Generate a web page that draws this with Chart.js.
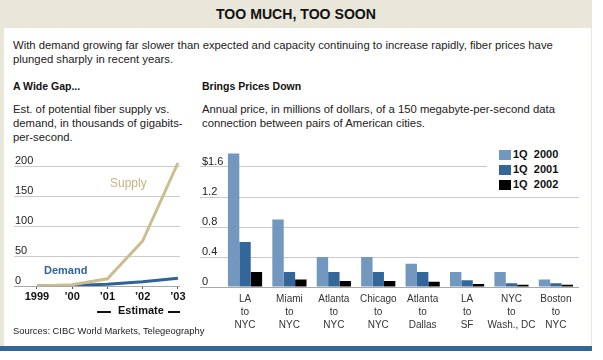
<!DOCTYPE html>
<html>
<head>
<meta charset="utf-8">
<script src="https://cdn.jsdelivr.net/npm/chart.js@4.4.1/dist/chart.umd.min.js"></script>
<style>
  body { margin: 0; background: #fff; font-family: Arial, "Liberation Sans", Helvetica, sans-serif; color: #222; }
  #frame { position: absolute; left: 0; top: 0; width: 592px; height: 346px; background: #e8e7da; }
  #panel { position: absolute; left: 4px; top: 28px; width: 587px; height: 318px; background: #fff; }
  #bar { position: absolute; left: 0; top: 346px; width: 592px; height: 5px; background: #336699; }
  .t { position: absolute; white-space: nowrap; }
  #title { left: 0; width: 592px; top: 5px; text-align: center; font: bold 15px Arial, sans-serif; color: #111;
           transform: scaleX(0.94); transform-origin: 296px 0; }
  .body { font-size: 11.3px; line-height: 14px; }
  .head { font-weight: bold; font-size: 10.5px; color: #111; }
  canvas { position: absolute; }
  #legend { position: absolute; left: 487px; top: 146px; width: 92px; height: 46px; background: #fff; }
  .li { position: absolute; left: 12px; height: 12px; font: bold 11px Arial, sans-serif; white-space: pre; color: #111; }
  .li span { position: absolute; left: 0; top: 1px; width: 12px; height: 10px; }
  .li b { position: absolute; left: 14px; top: -1px; }
  .dash { position: absolute; height: 1.5px; background: #111; }
</style>
</head>
<body>
<div id="frame"></div>
<div id="panel"></div>
<div id="bar"></div>

<div class="t" id="title">TOO MUCH, TOO SOON</div>
<div class="t body" style="left:13px; top:38px;">With demand growing far slower than expected and capacity continuing to increase rapidly, fiber prices have<br>plunged sharply in recent years.</div>

<div class="t head" style="left:13px; top:80px;">A Wide Gap...</div>
<div class="t body" style="left:13px; top:102px;">Est. of potential fiber supply vs.<br>demand, in thousands of gigabits-<br>per-second.</div>

<div class="t head" style="left:202px; top:80px;">Brings Prices Down</div>
<div class="t body" style="left:202px; top:102px;">Annual price, in millions of dollars, of a 150 megabyte-per-second data<br>connection between pairs of American cities.</div>

<canvas id="gap" width="195" height="180" style="left:0; top:140px;"></canvas>
<canvas id="prices" width="413" height="200" style="left:190px; top:140px;"></canvas>

<div class="t" style="left:110px; top:176px; font-size:12px; color:#c4b383;">Supply</div>
<div class="t" style="left:44px; top:264px; font-size:11px; font-weight:bold; color:#2e6399;">Demand</div>
<div class="dash" style="left:97px; top:311px; width:14px;"></div>
<div class="t" style="left:118px; top:304px; font-size:11px; font-weight:bold; color:#111;">Estimate</div>
<div class="dash" style="left:168px; top:311px; width:12px;"></div>
<div class="t" style="left:13px; top:325px; font-size:9.4px; color:#222;">Sources: CIBC World Markets, Telegeography</div>

<div id="legend">
  <div class="li" style="top:3px;"><span style="background:#7298bf"></span><b>1Q  2000</b></div>
  <div class="li" style="top:18px;"><span style="background:#336699"></span><b>1Q  2001</b></div>
  <div class="li" style="top:33px;"><span style="background:#000"></span><b>1Q  2002</b></div>
</div>

<script>
// left chart: supply vs demand, thousands of Gbps
var years      = [1999, 2000, 2001, 2002, 2003]
var yearLabels = ['1999', '\u201900', '\u201901', '\u201902', '\u201903']
var supply     = [0, 2, 12, 75, 205]
var demand     = [0, 1, 3, 7, 13]
var gapTicks   = [0, 50, 100, 150, 200]

// right chart: annual price, $ millions
var routes = [
  ['LA', 'to', 'NYC'], ['Miami', 'to', 'NYC'], ['Atlanta', 'to', 'NYC'], ['Chicago', 'to', 'NYC'],
  ['Atlanta', 'to', 'Dallas'], ['LA', 'to', 'SF'], ['NYC', 'to', 'Wash., DC'], ['Boston', 'to', 'NYC']
]
var price2000  = [1.78, 0.9, 0.4, 0.4, 0.31, 0.2, 0.2, 0.1]
var price2001  = [0.6, 0.2, 0.2, 0.2, 0.2, 0.09, 0.05, 0.05]
var price2002  = [0.2, 0.1, 0.08, 0.08, 0.07, 0.04, 0.03, 0.03]
var priceTicks = [0, 0.4, 0.8, 1.2, 1.6]
var priceTickLabels = ['0', '0.4', '0.8', '1.2', '$1.6']

var gridColor = function (c) { return c.tick && c.tick.value === 0 ? '#a8a8a8' : '#cacaca' }

function pts(xs, ys) {
  return ys.map(function (v, i) { return { x: xs[i], y: v } })
}
var routeIdx = routes.map(function (r, i) { return i })

new Chart(document.getElementById('gap'), {
  type: 'line',
  data: {
    datasets: [
      { data: pts(years, supply), borderColor: '#cbbd8f', borderWidth: 3, pointRadius: 0, tension: 0 },
      { data: pts(years, demand), borderColor: '#2e6399', borderWidth: 3, pointRadius: 0, tension: 0 }
    ]
  },
  options: {
    responsive: false, animation: false,
    layout: { padding: { left: 14, right: 15, top: 20, bottom: 0 } },
    plugins: { legend: { display: false }, tooltip: { enabled: false } },
    scales: {
      x: {
        type: 'linear', min: 1998.35, max: 2003.06,
        afterBuildTicks: function (s) { s.ticks = years.map(function (v) { return { value: v } }) },
        afterFit: function (s) { s.height = 34 },
        grid: { drawOnChartArea: false, drawTicks: true, tickLength: 3, color: '#555' },
        border: { display: false },
        ticks: {
          padding: 1, color: '#111', font: { family: 'Arial', size: 11, weight: 'bold' },
          autoSkip: false, maxRotation: 0,
          callback: function (v, i) { return yearLabels[i] }
        }
      },
      y: {
        min: 0, max: 210,
        afterBuildTicks: function (s) { s.ticks = gapTicks.map(function (v) { return { value: v } }) },
        afterFit: function (s) { s.width = 0 },
        grid: { color: gridColor, drawTicks: false },
        border: { display: false },
        ticks: {
          mirror: true, padding: 1, labelOffset: -5, color: '#222',
          font: { family: 'Arial', size: 11 }
        }
      }
    }
  }
})

new Chart(document.getElementById('prices'), {
  type: 'bar',
  data: {
    datasets: [
      { label: '1Q 2000', data: pts(routeIdx, price2000), backgroundColor: '#7298bf' },
      { label: '1Q 2001', data: pts(routeIdx, price2001), backgroundColor: '#336699' },
      { label: '1Q 2002', data: pts(routeIdx, price2002), backgroundColor: '#000000' }
    ]
  },
  options: {
    responsive: false, animation: false,
    categoryPercentage: 0.77, barPercentage: 1.0,
    layout: { padding: { left: 10, right: 24, top: 12, bottom: 0 } },
    plugins: { legend: { display: false }, tooltip: { enabled: false } },
    scales: {
      x: {
        type: 'linear', min: -1.0135, max: 7.52, offset: false,
        afterBuildTicks: function (s) { s.ticks = routeIdx.map(function (v) { return { value: v } }) },
        afterFit: function (s) { s.height = 53 },
        grid: { display: false, offset: false },
        border: { display: false },
        ticks: {
          padding: -2, color: '#333', font: { family: 'Arial', size: 10, lineHeight: 1.3 },
          autoSkip: false, maxRotation: 0,
          callback: function (v, i) { return routes[i] }
        }
      },
      y: {
        min: 0, max: 1.8,
        afterBuildTicks: function (s) { s.ticks = priceTicks.map(function (v) { return { value: v } }) },
        afterFit: function (s) { s.width = 0 },
        grid: { color: gridColor, drawTicks: false },
        border: { display: false },
        ticks: {
          mirror: true, padding: 2, labelOffset: -5, color: '#222',
          font: { family: 'Arial', size: 11 },
          callback: function (v, i) { return priceTickLabels[i] }
        }
      }
    }
  }
})
</script>
</body>
</html>
